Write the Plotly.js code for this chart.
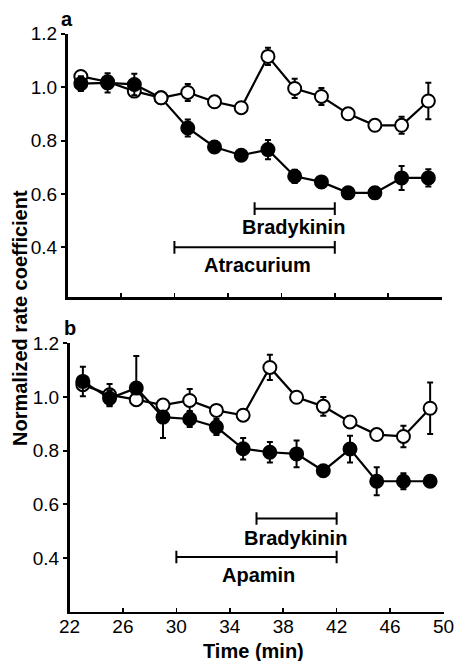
<!DOCTYPE html>
<html>
<head>
<meta charset="utf-8">
<script src="https://cdn.plot.ly/plotly-3.0.1.min.js"></script>
<style>
html,body{margin:0;padding:0;background:#fff;}
#chart{width:456px;height:661px;}
</style>
</head>
<body>
<div id="chart"></div>
<script>
// ---- data ----
const times = [23, 25, 27, 29, 31, 33, 35, 37, 39, 41, 43, 45, 47, 49];

// panel a: control (open) and atracurium (filled)
const controlA    = [1.04, 1.02, 0.985, 0.96, 0.98, 0.945, 0.923, 1.115, 0.995, 0.965, 0.90, 0.857, 0.857, 0.948];
const controlAErr = [0.01, 0.01, 0.01, 0.01, 0.032, 0.01, 0.01, 0.032, 0.036, 0.032, 0.01, 0.012, 0.032, 0.068];
const atracA      = [1.013, 1.016, 1.01, 0.96, 0.847, 0.776, 0.745, 0.766, 0.666, 0.645, 0.604, 0.604, 0.66, 0.66];
const atracAErr   = [0.028, 0.036, 0.04, 0.01, 0.032, 0.012, 0.015, 0.036, 0.025, 0.01, 0.01, 0.012, 0.045, 0.032];

// panel b: control (open) and apamin (filled)
const controlB    = [1.046, 1.008, 0.99, 0.97, 0.987, 0.95, 0.932, 1.11, 0.999, 0.965, 0.907, 0.86, 0.853, 0.958];
const controlBErr = [0.02, 0.04, 0.02, 0.01, 0.043, 0.01, 0.01, 0.047, 0.02, 0.035, 0.01, 0.015, 0.04, 0.096];
const apaminB         = [1.058, 0.995, 1.033, 0.925, 0.918, 0.888, 0.807, 0.794, 0.788, 0.725, 0.806, 0.686, 0.686, 0.686];
const apaminBErrUp    = [0.055, 0.03, 0.12, 0.02, 0.03, 0.03, 0.04, 0.038, 0.05, 0.01, 0.05, 0.052, 0.03, 0.02];
const apaminBErrDown  = [0.055, 0.03, 0.01, 0.078, 0.03, 0.03, 0.04, 0.038, 0.05, 0.01, 0.05, 0.052, 0.03, 0.02];

// treatment periods (min)
const bradykininPeriod = [36, 42];
const drugPeriod = [30, 42];
const drugNames = ["Atracurium", "Apamin"];

const xTicks = [22, 26, 30, 34, 38, 42, 46, 50];
const yTicks = [0.4, 0.6, 0.8, 1.0, 1.2];

// ---- drawing ----
const W = 456, H = 661;
const FONT = '"Liberation Sans", Arial, Helvetica, sans-serif';

function openTrace(y, err, xa, ya) {
  return {x: times, y: y, xaxis: xa, yaxis: ya, type: 'scatter', mode: 'lines+markers',
    line: {color: '#000', width: 2.2},
    marker: {symbol: 'circle', size: 13, color: '#fff', line: {color: '#000', width: 2}},
    error_y: {type: 'data', array: err, visible: true, color: '#000', thickness: 2, width: 3},
    hoverinfo: 'skip', showlegend: false};
}
function filledTrace(y, errUp, errDown, xa, ya, colors) {
  return {x: times, y: y, xaxis: xa, yaxis: ya, type: 'scatter', mode: 'lines+markers',
    line: {color: '#000', width: 2.2},
    marker: {symbol: 'circle', size: 13, color: colors || '#000', line: {color: '#000', width: 2}},
    error_y: {type: 'data', symmetric: false, array: errUp, arrayminus: errDown, visible: true, color: '#000', thickness: 2, width: 3},
    hoverinfo: 'skip', showlegend: false};
}
function periodTrace(period, level, xa, ya) {
  return {x: period, y: [level, level], xaxis: xa, yaxis: ya, type: 'scatter', mode: 'lines+markers',
    line: {color: '#000', width: 2},
    marker: {symbol: 'line-ns', size: 9, line: {color: '#000', width: 2}},
    hoverinfo: 'skip', showlegend: false};
}

// in panel a the filled point at 29 min lies under the open circle
const colorsA = atracA.map((v, i) => Math.abs(v - controlA[i]) < 1e-9 ? '#fff' : '#000');

const traces = [
  openTrace(controlA, controlAErr, 'x', 'y'),
  filledTrace(atracA, atracAErr, atracAErr, 'x', 'y', colorsA),
  periodTrace(bradykininPeriod, 0.545, 'x', 'y'),
  periodTrace(drugPeriod, 0.40, 'x', 'y'),
  openTrace(controlB, controlBErr, 'x2', 'y2'),
  filledTrace(apaminB, apaminBErrUp, apaminBErrDown, 'x2', 'y2'),
  periodTrace(bradykininPeriod, 0.547, 'x2', 'y2'),
  periodTrace(drugPeriod, 0.404, 'x2', 'y2')
];

const axisCommon = {showgrid: false, zeroline: false, showline: true, linecolor: '#000', linewidth: 2.5,
  tickcolor: '#000', tickfont: {family: FONT, size: 19, color: '#000'}, fixedrange: true};

const layout = {
  width: W, height: H,
  margin: {l: 0, r: 0, t: 0, b: 0},
  paper_bgcolor: '#fff', plot_bgcolor: '#fff',
  font: {family: FONT, color: '#000'},
  showlegend: false,
  xaxis: Object.assign({}, axisCommon, {domain: [67.5 / W, 441.7 / W], range: [22, 50],
    tickvals: xTicks, ticks: 'inside', ticklen: 4, tickwidth: 1.5, showticklabels: false, anchor: 'y'}),
  yaxis: Object.assign({}, axisCommon, {domain: [1 - 297.3 / H, 1 - 33.7 / H], range: [0.213, 1.2],
    tickvals: yTicks, tickformat: '.1f', ticks: 'outside', ticklen: 4, tickwidth: 2, anchor: 'x'}),
  xaxis2: Object.assign({}, axisCommon, {domain: [69.5 / W, 443.5 / W], range: [22, 50],
    tickvals: xTicks, ticks: 'inside', ticklen: 4, tickwidth: 1.5, anchor: 'y2', ticklabelstandoff: -4}),
  yaxis2: Object.assign({}, axisCommon, {domain: [1 - 611.7 / H, 1 - 343.3 / H], range: [0.2, 1.2],
    tickvals: yTicks, tickformat: '.1f', ticks: 'outside', ticklen: 4, tickwidth: 2, anchor: 'x2'}),
  annotations: [
    {text: 'a', xref: 'paper', yref: 'paper', x: 67 / W, y: 1 - 19 / H, showarrow: false,
      xanchor: 'center', yanchor: 'middle', font: {family: FONT, size: 20, weight: 'bold'}},
    {text: 'b', xref: 'paper', yref: 'paper', x: 70 / W, y: 1 - 328 / H, showarrow: false,
      xanchor: 'center', yanchor: 'middle', font: {family: FONT, size: 20, weight: 'bold'}},
    {text: 'Normalized rate coefficient', xref: 'paper', yref: 'paper', x: 20 / W, y: 1 - 318 / H,
      textangle: -90, showarrow: false, xanchor: 'center', yanchor: 'middle',
      font: {family: FONT, size: 20, weight: 'bold'}},
    {text: 'Time (min)', xref: 'paper', yref: 'paper', x: 254 / W, y: 1 - 651 / H, showarrow: false,
      xanchor: 'center', yanchor: 'middle', font: {family: FONT, size: 20, weight: 'bold'}},
    {text: 'Bradykinin', xref: 'x', yref: 'y', x: 38.9, y: 0.477, showarrow: false,
      xanchor: 'center', yanchor: 'middle', font: {family: FONT, size: 20, weight: 'bold'}},
    {text: drugNames[0], xref: 'x', yref: 'y', x: 36.2, y: 0.333, showarrow: false,
      xanchor: 'center', yanchor: 'middle', font: {family: FONT, size: 20, weight: 'bold'}},
    {text: 'Bradykinin', xref: 'x2', yref: 'y2', x: 38.9, y: 0.475, showarrow: false,
      xanchor: 'center', yanchor: 'middle', font: {family: FONT, size: 20, weight: 'bold'}},
    {text: drugNames[1], xref: 'x2', yref: 'y2', x: 36.15, y: 0.335, showarrow: false,
      xanchor: 'center', yanchor: 'middle', font: {family: FONT, size: 20, weight: 'bold'}}
  ]
};

Plotly.newPlot('chart', traces, layout, {staticPlot: true, displayModeBar: false});
</script>
</body>
</html>
